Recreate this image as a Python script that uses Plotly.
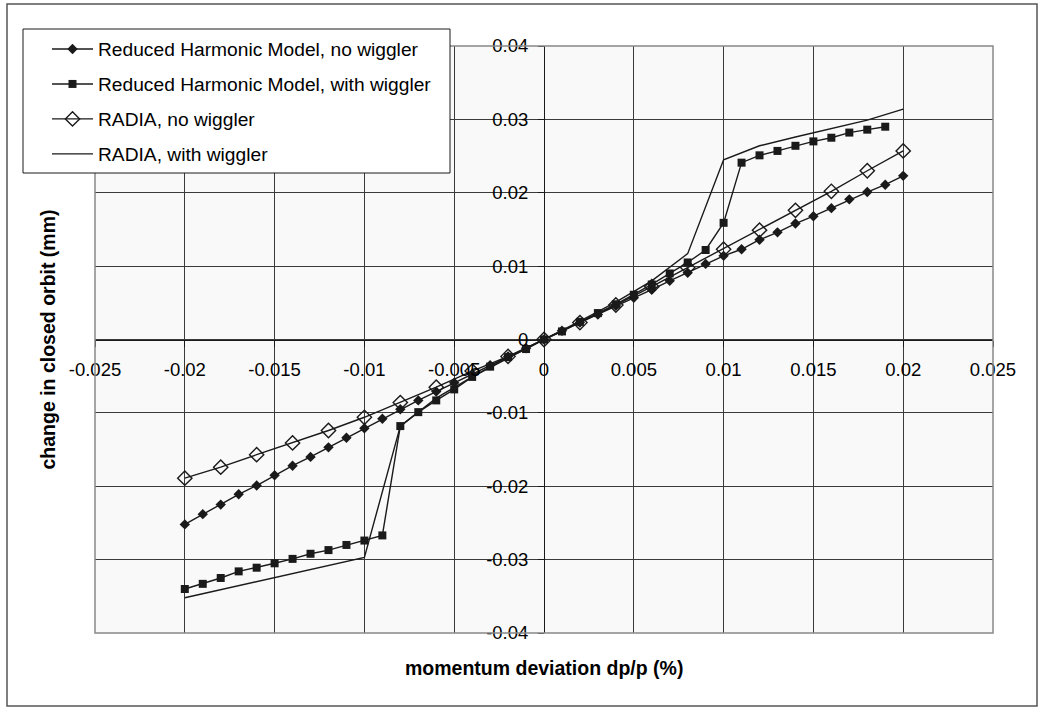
import plotly.graph_objects as go

# ---------------- data ----------------
x_fine = [round(-0.020 + 0.001 * i, 3) for i in range(41)]
rhm_no_wiggler = [
    -0.0252, -0.0238, -0.0225, -0.0211, -0.0199, -0.0185, -0.0172, -0.0160, -0.0147, -0.0134,
    -0.0121, -0.0108, -0.0095, -0.0083, -0.0071, -0.0059, -0.0047, -0.0035, -0.0023, -0.0012,
    0.0,
    0.0012, 0.0023, 0.0034, 0.0046, 0.0057, 0.0068, 0.0080, 0.0091, 0.0103, 0.0114,
    0.0123, 0.0136, 0.0146, 0.0158, 0.0168, 0.0179, 0.0191, 0.0201, 0.0211, 0.0223,
]

x_rhm_wig = x_fine[:40]
rhm_with_wiggler = [
    -0.0340, -0.0333, -0.0325, -0.0316, -0.0311, -0.0305, -0.0299, -0.0292, -0.0287, -0.0280,
    -0.0274, -0.0267, -0.0118, -0.0099, -0.0083, -0.0068, -0.0051, -0.0037, -0.0024, -0.0013,
    0.0,
    0.0011, 0.0024, 0.0036, 0.0048, 0.0061, 0.0075, 0.0090, 0.0105, 0.0122, 0.0159,
    0.0241, 0.0251, 0.0257, 0.0264, 0.0270, 0.0275, 0.0282, 0.0286, 0.0290,
]

x_coarse = [round(-0.020 + 0.002 * i, 3) for i in range(21)]
radia_no_wiggler = [
    -0.0189, -0.0174, -0.0157, -0.0141, -0.0124, -0.0106, -0.0086, -0.0065, -0.0043, -0.0023,
    0.0,
    0.0023, 0.0047, 0.0072, 0.0098, 0.0123, 0.0149, 0.0176, 0.0202, 0.0230, 0.0257,
]
radia_with_wiggler = [
    -0.0352, -0.0341, -0.0330, -0.0319, -0.0308, -0.0297, -0.0118, -0.0080, -0.0051, -0.0025,
    0.0,
    0.0025, 0.0051, 0.0080, 0.0117, 0.0245, 0.0264, 0.0276, 0.0287, 0.0299, 0.0314,
]

x_ticks = [-0.025, -0.02, -0.015, -0.01, -0.005, 0, 0.005, 0.01, 0.015, 0.02, 0.025]
x_tick_text = ["-0.025", "-0.02", "-0.015", "-0.01", "-0.005", "0", "0.005", "0.01", "0.015", "0.02", "0.025"]
y_ticks = [-0.04, -0.03, -0.02, -0.01, 0, 0.01, 0.02, 0.03, 0.04]
y_tick_text = ["-0.04", "-0.03", "-0.02", "-0.01", "0", "0.01", "0.02", "0.03", "0.04"]

# ---------------- figure ----------------
INK = "#1a1a1a"
FONT = "Liberation Sans, Arial, sans-serif"

fig = go.Figure()
fig.add_trace(go.Scatter(
    x=x_fine, y=rhm_no_wiggler, mode="lines+markers",
    name="Reduced Harmonic Model, no wiggler", legendgroup="a",
    line=dict(color=INK, width=1.4),
    marker=dict(symbol="diamond", size=8, color=INK),
))
fig.add_trace(go.Scatter(
    x=x_rhm_wig, y=rhm_with_wiggler, mode="lines+markers",
    name="Reduced Harmonic Model, with wiggler", legendgroup="b",
    line=dict(color=INK, width=1.4),
    marker=dict(symbol="square", size=8, color=INK),
))
fig.add_trace(go.Scatter(
    x=x_coarse, y=radia_no_wiggler, mode="lines+markers",
    name="RADIA, no wiggler", legendgroup="c",
    line=dict(color=INK, width=1.4),
    marker=dict(symbol="diamond-open", size=11, color=INK, line=dict(width=1.4, color=INK)),
))
fig.add_trace(go.Scatter(
    x=x_coarse, y=radia_with_wiggler, mode="lines",
    name="RADIA, with wiggler", legendgroup="d",
    line=dict(color=INK, width=1.4),
))

L, R, T, B = 95, 48, 46, 76
W, H = 1041, 709
pw, ph = W - L - R, H - T - B

def px_x(p):
    return (p - L) / pw

def px_y(p):
    return (H - B - p) / ph

fig.update_layout(
    width=W, height=H,
    margin=dict(l=L, r=R, t=T, b=B, pad=0),
    paper_bgcolor="white",
    plot_bgcolor="#f9f9f9",
    font=dict(family=FONT, size=18, color="black"),
    showlegend=True,
    legend=dict(
        x=px_x(47), y=px_y(30), xanchor="left", yanchor="top",
        bgcolor="rgba(0,0,0,0)", borderwidth=0,
        font=dict(family=FONT, size=19.2, color="black"),
        tracegroupgap=7, itemwidth=41,
    ),
    xaxis=dict(
        range=[-0.025, 0.025], anchor="free", position=0.5,
        tickvals=x_ticks, ticktext=x_tick_text,
        ticks="outside", ticklen=6, tickcolor=INK,
        showline=True, linecolor=INK, linewidth=1,
        showgrid=True, gridcolor="#3a3a3a", gridwidth=1,
        zeroline=False, ticklabelstandoff=7,
        tickfont=dict(family=FONT, size=18.5, color="black"),
    ),
    yaxis=dict(
        range=[-0.04, 0.04], anchor="free", position=0.5,
        tickvals=y_ticks, ticktext=y_tick_text,
        ticks="outside", ticklen=6, tickcolor=INK,
        showline=True, linecolor=INK, linewidth=1,
        showgrid=True, gridcolor="#3a3a3a", gridwidth=1,
        zeroline=False, ticklabelstandoff=6,
        tickfont=dict(family=FONT, size=18.5, color="black"),
    ),
    shapes=[
        dict(type="rect", xref="paper", yref="paper", x0=0, x1=1, y0=0, y1=1,
             line=dict(color="#888888", width=1.5), layer="above"),
        dict(type="rect", xref="paper", yref="paper",
             x0=px_x(7), x1=px_x(1037), y0=px_y(706), y1=px_y(4),
             line=dict(color="#555555", width=1.5), layer="above"),
        # legend frame
        dict(type="rect", xref="paper", yref="paper",
             x0=px_x(23), x1=px_x(450), y0=px_y(173), y1=px_y(29),
             fillcolor="white", line=dict(color=INK, width=1), layer="above"),
    ],
    annotations=[
        dict(text="<b>change in closed orbit (mm)</b>", textangle=-90,
             xref="paper", yref="paper", x=px_x(47), y=0.5,
             xanchor="center", yanchor="middle", showarrow=False,
             font=dict(family=FONT, size=19.5, color="black")),
        dict(text="<b>momentum deviation dp/p (%)</b>",
             xref="paper", yref="paper", x=0.5, y=px_y(668),
             xanchor="center", yanchor="middle", showarrow=False,
             font=dict(family=FONT, size=19.5, color="black")),
    ],
)

fig.write_html("out.html")
